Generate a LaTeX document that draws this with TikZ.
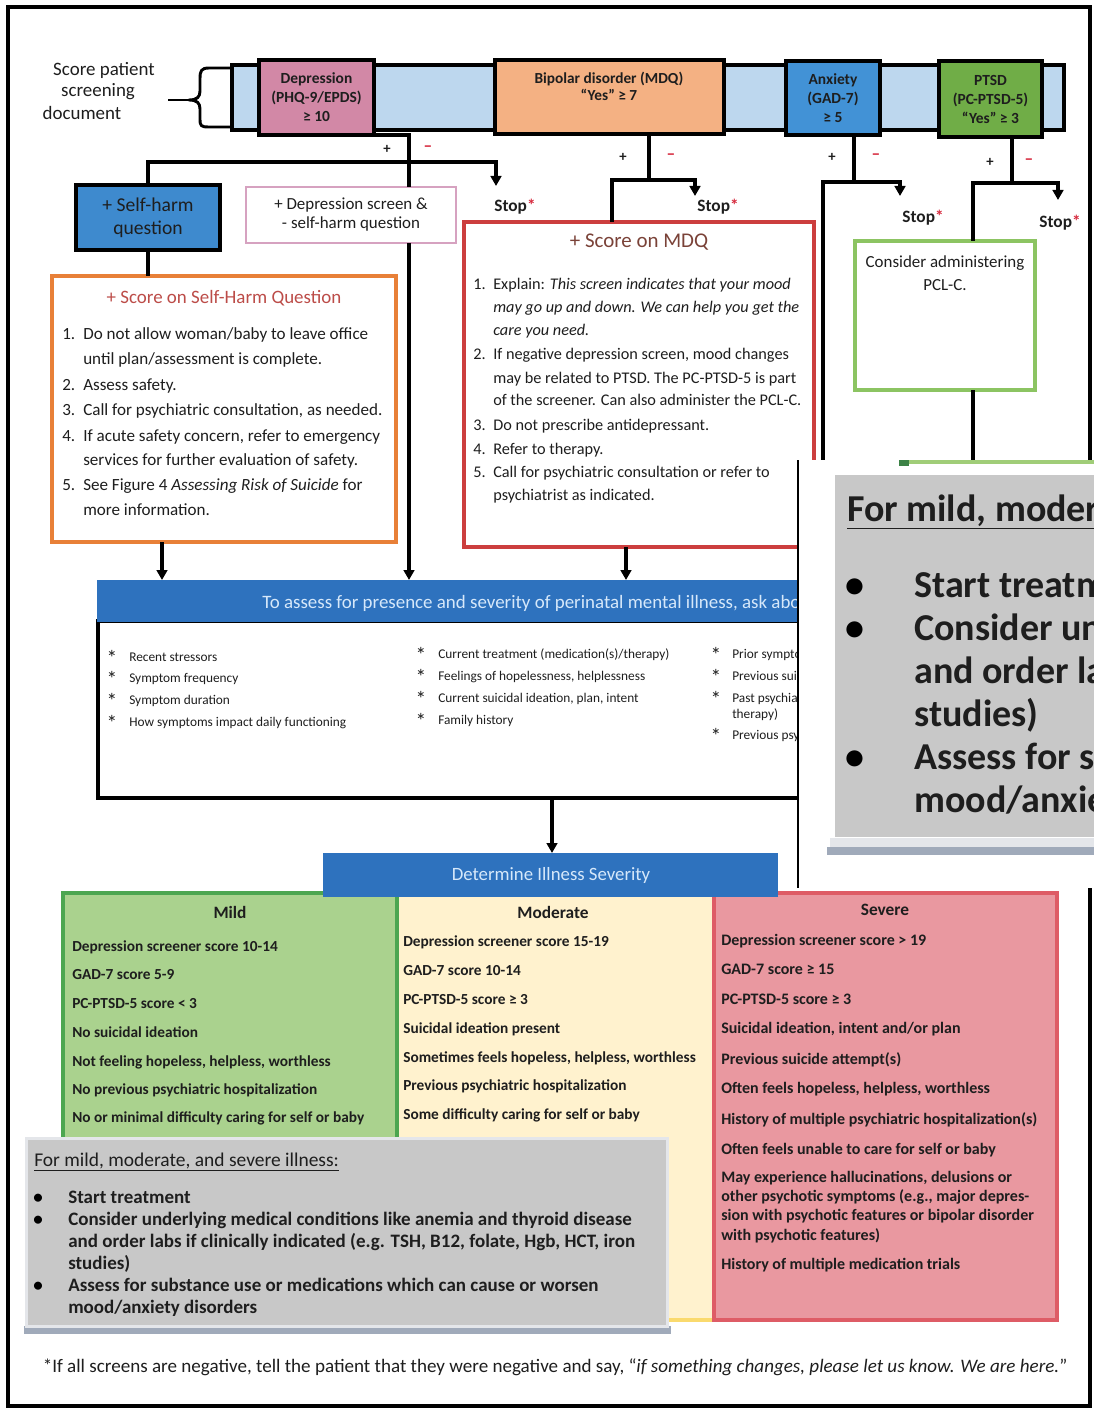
\documentclass[tikz,border=0pt]{standalone}
\usepackage{fontspec}
\setmainfont{Carlito}
\usetikzlibrary{arrows.meta}

\definecolor{barblue}{RGB}{189,215,238}
\definecolor{depfill}{RGB}{210,136,166}
\definecolor{bipfill}{RGB}{244,177,131}
\definecolor{anxfill}{RGB}{66,146,214}
\definecolor{ptsdfill}{RGB}{112,173,71}
\definecolor{shfill}{RGB}{62,138,206}
\definecolor{pinkline}{RGB}{214,162,192}
\definecolor{orangeline}{RGB}{232,128,56}
\definecolor{mdqred}{RGB}{204,62,62}
\definecolor{titlered}{RGB}{188,76,72}
\definecolor{mdqtitle}{RGB}{122,66,56}
\definecolor{stopred}{RGB}{214,40,60}
\definecolor{pclgreen}{RGB}{140,196,98}
\definecolor{headblue}{RGB}{46,114,190}
\definecolor{headtext}{RGB}{214,232,250}
\definecolor{mildfill}{RGB}{170,210,142}
\definecolor{mildline}{RGB}{76,166,80}
\definecolor{modfill}{RGB}{255,242,206}
\definecolor{modline}{RGB}{250,218,110}
\definecolor{sevfill}{RGB}{233,152,160}
\definecolor{sevline}{RGB}{222,92,102}
\definecolor{notegray}{RGB}{200,200,200}
\definecolor{noteshadow}{RGB}{160,170,186}
\definecolor{noteedge}{RGB}{228,230,234}
\definecolor{inkdark}{RGB}{30,30,30}
\definecolor{pcllight}{RGB}{160,205,120}
\definecolor{pcldark}{RGB}{60,130,70}

\newcommand\fsz[2]{\fontsize{#1}{#2}\selectfont}

\begin{document}
\begin{tikzpicture}[x=0.75pt,y=-0.75pt,
  rect/.style args={#1/#2/#3/#4}{at={({(#1+#3)/2},{(#2+#4)/2})},
     minimum width={(#3-#1)*0.75pt}, minimum height={(#4-#2)*0.75pt},
     inner sep=0pt, outer sep=0pt},
  conn/.style={draw=black, line width=2.5pt},
  arr/.style={conn, -{Triangle[width=8pt,length=7.5pt]}},
  screen/.style={draw=black, line width=2.4pt, font=\bfseries\fsz{11.6}{14.25},
     align=center, text=inkdark},
  stoplbl/.style={font=\bfseries\fsz{13}{15}, text=inkdark, inner sep=0pt},
  pluslbl/.style={font=\bfseries\fsz{11}{13}, text=inkdark, inner sep=0pt},
  minuslbl/.style={font=\bfseries\fsz{13}{15}, text=stopred, inner sep=0pt},
  oitem/.style={anchor=base west, inner sep=0pt, font=\fsz{12.8}{15}, text=inkdark},
  mitem/.style={anchor=base west, inner sep=0pt, font=\fsz{12.2}{14}, text=inkdark},
  aitem/.style={anchor=base west, inner sep=0pt, font=\fsz{10}{12}, text=inkdark},
  astmark/.style={anchor=base, inner sep=0pt, font=\fsz{16}{16}, text=inkdark},
  titem/.style={anchor=base west, inner sep=0pt, font=\bfseries\fsz{11.5}{13}, text=inkdark},
  sitem/.style={anchor=base west, inner sep=0pt, font=\bfseries\fsz{12}{13}, text=inkdark},
  ttitle/.style={inner sep=0pt, font=\bfseries\fsz{13}{15}, text=inkdark},
  gitem/.style={anchor=base west, inner sep=0pt, font=\bfseries\fsz{14.25}{16}, text=inkdark},
  gdot/.style={anchor=base, inner sep=0pt, font=\bfseries\fsz{14.25}{16}, text=black},
  zitem/.style={anchor=base west, inner sep=0pt, font=\bfseries\fsz{28.5}{32}, text=inkdark},
  zdot/.style={anchor=base, inner sep=0pt, font=\bfseries\fsz{28.5}{32}, text=black},
]
\useasboundingbox (0,0) rectangle (1094,1408);
\fill[white] (0,0) rectangle (1094,1408);

% outer frame
\draw[line width=2.4pt] (8,7) rectangle (1090,1406);

% ---------- screening row ----------
\node[font=\fsz{14.2}{16}, text=inkdark] (sp1) at (104,70) {Score patient};
\node[font=\fsz{14.2}{16}, text=inkdark] (sp2) at (98,92) {screening};
\node[font=\fsz{14.2}{16}, text=inkdark] (sp3) at (82,113) {document};

\draw[line width=2.2pt, line join=round]
  (232,68) -- (209,68) .. controls (201,68) and (200,71) .. (200,79) -- (200,91)
  .. controls (200,97) and (197,100) .. (189,100)
  .. controls (197,100) and (200,103) .. (200,109) -- (200,119)
  .. controls (200,126) and (201,127) .. (209,127) -- (232,127);
\draw[line width=2.2pt] (189,100) -- (168,100);

\node[rect=232/65/1064/130, fill=barblue, draw=black, line width=2.4pt] (bar) {};

\node[screen, rect=259/60/374/135, fill=depfill] (dep) {Depression\\(PHQ-9/EPDS)\\≥ 10};
\node[screen, rect=495/60/724/134, fill=bipfill] (bip) {};
\node[font=\bfseries\fsz{11.5}{12.75}, align=center, text=inkdark] (biptxt) at (609,86)
  {Bipolar disorder (MDQ)\\“Yes” ≥ 7};
\node[screen, rect=786/61/880/135, fill=anxfill] (anx) {Anxiety\\(GAD-7)\\≥ 5};
\node[screen, rect=939/61/1042/137, fill=ptsdfill] (ptsd) {PTSD\\(PC-PTSD-5)\\“Yes” ≥ 3};

% branch points and stop arrows
\coordinate (dj) at (409,162);
\coordinate (dstop) at (496,186);
\coordinate (bj) at (649,180);
\coordinate (bl) at (612,180);
\coordinate (bstop) at (695,196);
\coordinate (aj) at (854,182);
\coordinate (al) at (823,182);
\coordinate (astop) at (900,196);
\coordinate (pj) at (1012,183);
\coordinate (pl) at (973,183);
\coordinate (pstop) at (1058,200);
\coordinate (ox) at (162,0);
\coordinate (mx) at (626,0);
\coordinate (sx) at (552,0);

% ---------- second row boxes ----------
\node[rect=76/185/220/250, fill=shfill, draw=black, line width=2.4pt,
  font=\fsz{14.7}{17.25}, align=center, text=inkdark] (sh) {+ Self-harm\\question};
\node[rect=246/187/456/243, draw=pinkline, line width=2.2pt, fill=white,
  font=\fsz{12.7}{14.25}, align=center, text=inkdark] (pink)
  {+ Depression screen \&\\- self-harm question};

\node[rect=52/276/396/542, draw=orangeline, line width=3pt] (orng) {};
\node[rect=464/222/814/547, draw=mdqred, line width=2.4pt] (mdq) {};
\node[rect=855/241/1035/390, draw=pclgreen, line width=2.4pt] (pcl) {};
\node[font=\fsz{12.7}{17.25}, align=center, text=inkdark] (pcltxt) at (945,273)
  {Consider administering\\PCL-C.};

% ---------- assessment box ----------
\node[rect=98/621/1040/798, draw=black, line width=3pt] (assess) {};
\node[rect=97/580/1040/622, fill=headblue] (ahead) {};
\node[anchor=base west, inner sep=0pt, font=\fsz{14.2}{16}, text=headtext] (aheadtxt)
  at (262,608) {To assess for presence and severity of perinatal mental illness, ask about:};

% ---------- connectors ----------
\draw[conn] (dep.south east) -| (pink.north -| dj);
\draw[arr] (sh.north) |- (dj) -| (dstop);
\draw[arr] (pink.south -| dj) -- (ahead.north -| dj);
\draw[conn] (sh.south) -- (sh.south |- orng.north);
\draw[arr] (orng.south -| ox) -- (ahead.north -| ox);

\draw[conn] (bip.south -| bj) -- (bj);
\draw[arr] (mdq.north -| bl) |- (bj) -| (bstop);
\draw[arr] (mdq.south -| mx) -- (ahead.north -| mx);

\draw[conn] (anx.south -| aj) -- (aj);
\draw[arr] (ahead.north -| al) |- (aj) -| (astop);

\draw[conn] (ptsd.south -| pj) -- (pj);
\draw[arr] (pcl.north -| pl) |- (pj) -| (pstop);
\draw[arr] (pcl.south -| pl) -- (ahead.north -| pl);

\node[pluslbl] (p1) at (387,149) {+};
\node[minuslbl] (m1) at (428,149) {–};
\node[pluslbl] (p2) at (623,157) {+};
\node[minuslbl] (m2) at (671,157) {–};
\node[pluslbl] (p3) at (832,157) {+};
\node[minuslbl] (m3) at (876,157) {–};
\node[pluslbl] (p4) at (990,162) {+};
\node[minuslbl] (m4) at (1029,162) {–};

\node[stoplbl] (stop1) at (515,207) {Stop\textcolor{stopred}{*}};
\node[stoplbl] (stop2) at (718,207) {Stop\textcolor{stopred}{*}};
\node[stoplbl] (stop3) at (923,218) {Stop\textcolor{stopred}{*}};
\node[stoplbl] (stop4) at (1060,223) {Stop\textcolor{stopred}{*}};

% ---------- self-harm action list ----------
\node[font=\fsz{14.2}{16}, text=titlered] (otitle) at (224,298) {+ Score on Self-Harm Question};
\node[oitem] (on1) at (62,340) {1.};
\node[oitem] (ot1a) at (83,340) {Do not allow woman/baby to leave office};
\node[oitem] (ot1b) at (83,365) {until plan/assessment is complete.};
\node[oitem] (on2) at (62,390) {2.};
\node[oitem] (ot2) at (83,390) {Assess safety.};
\node[oitem] (on3) at (62,415) {3.};
\node[oitem] (ot3) at (83,415) {Call for psychiatric consultation, as needed.};
\node[oitem] (on4) at (62,441) {4.};
\node[oitem] (ot4a) at (83,441) {If acute safety concern, refer to emergency};
\node[oitem] (ot4b) at (83,465) {services for further evaluation of safety.};
\node[oitem] (on5) at (62,490) {5.};
\node[oitem] (ot5a) at (83,490) {See Figure 4 \textit{Assessing Risk of Suicide} for};
\node[oitem] (ot5b) at (83,515) {more information.};

% ---------- MDQ action list ----------
\node[font=\fsz{15.7}{17}, text=mdqtitle] (mtitle) at (639,242) {+ Score on MDQ};
\node[mitem] (mn1) at (473,290) {1.};
\node[mitem] (mt1a) at (493,290) {Explain: \textit{This screen indicates that your mood}};
\node[mitem] (mt1b) at (493,313) {\textit{may go up and down. We can help you get the}};
\node[mitem] (mt1c) at (493,336) {\textit{care you need.}};
\node[mitem] (mn2) at (473,360) {2.};
\node[mitem] (mt2a) at (493,360) {If negative depression screen, mood changes};
\node[mitem] (mt2b) at (493,383) {may be related to PTSD. The PC-PTSD-5 is part};
\node[mitem] (mt2c) at (493,406) {of the screener. Can also administer the PCL-C.};
\node[mitem] (mn3) at (473,430) {3.};
\node[mitem] (mt3) at (493,430) {Do not prescribe antidepressant.};
\node[mitem] (mn4) at (473,454) {4.};
\node[mitem] (mt4) at (493,454) {Refer to therapy.};
\node[mitem] (mn5) at (473,477) {5.};
\node[mitem] (mt5a) at (493,477) {Call for psychiatric consultation or refer to};
\node[mitem] (mt5b) at (493,500) {psychiatrist as indicated.};

% ---------- assessment questions ----------
\node[astmark] (s11) at (112,665) {*};
\node[aitem] (a11) at (129,661) {Recent stressors};
\node[astmark] (s12) at (112,686) {*};
\node[aitem] (a12) at (129,682) {Symptom frequency};
\node[astmark] (s13) at (112,708) {*};
\node[aitem] (a13) at (129,704) {Symptom duration};
\node[astmark] (s14) at (112,730) {*};
\node[aitem] (a14) at (129,726) {How symptoms impact daily functioning};

\node[astmark] (s21) at (421,662) {*};
\node[aitem] (a21) at (438,658) {Current treatment (medication(s)/therapy)};
\node[astmark] (s22) at (421,684) {*};
\node[aitem] (a22) at (438,680) {Feelings of hopelessness, helplessness};
\node[astmark] (s23) at (421,706) {*};
\node[aitem] (a23) at (438,702) {Current suicidal ideation, plan, intent};
\node[astmark] (s24) at (421,728) {*};
\node[aitem] (a24) at (438,724) {Family history};

\node[astmark] (s31) at (716,662) {*};
\node[aitem] (a31) at (732,658) {Prior symptoms};
\node[astmark] (s32) at (716,684) {*};
\node[aitem] (a32) at (732,680) {Previous suicide attempts};
\node[astmark] (s33) at (716,706) {*};
\node[aitem] (a33) at (732,702) {Past psychiatric treatment (medication/};
\node[aitem] (a33b) at (732,718) {therapy)};
\node[astmark] (s34) at (716,743) {*};
\node[aitem] (a34) at (732,739) {Previous psychiatric hospitalization};

% ---------- severity table ----------
\node[rect=397/895/714/1320, fill=modfill, draw=modline, line width=2.4pt] (moder) {};
\node[rect=63/893/397/1146, fill=mildfill, draw=mildline, line width=2.4pt] (mild) {};
\node[rect=714/893/1057/1320, fill=sevfill, draw=sevline, line width=2.4pt] (sever) {};
\node[rect=323/853/778/897, fill=headblue] (shead) {};
\node[font=\fsz{14.1}{16}, text=headtext] (sheadtxt) at (551,875) {Determine Illness Severity};
\draw[arr] (assess.south -| sx) -- (shead.north -| sx);

\node[ttitle] (tmild) at (230,912) {Mild};
\node[titem] (m1) at (72,951) {Depression screener score 10-14};
\node[titem] (m2) at (72,979) {GAD-7 score 5-9};
\node[titem] (m3) at (72,1008) {PC-PTSD-5 score < 3};
\node[titem] (m4) at (72,1037) {No suicidal ideation};
\node[titem] (m5) at (72,1066) {Not feeling hopeless, helpless, worthless};
\node[titem] (m6) at (72,1094) {No previous psychiatric hospitalization};
\node[titem] (m7) at (72,1122) {No or minimal difficulty caring for self or baby};

\node[ttitle] (tmod) at (553,912) {Moderate};
\node[titem] (d1) at (403,946) {Depression screener score 15-19};
\node[titem] (d2) at (403,975) {GAD-7 score 10-14};
\node[titem] (d3) at (403,1004) {PC-PTSD-5 score ≥ 3};
\node[titem] (d4) at (403,1033) {Suicidal ideation present};
\node[titem] (d5) at (403,1062) {Sometimes feels hopeless, helpless, worthless};
\node[titem] (d6) at (403,1090) {Previous psychiatric hospitalization};
\node[titem] (d7) at (403,1119) {Some difficulty caring for self or baby};

\node[ttitle] (tsev) at (885,910) {Severe};
\node[sitem] (v1) at (721,945) {Depression screener score > 19};
\node[sitem] (v2) at (721,974) {GAD-7 score ≥ 15};
\node[sitem] (v3) at (721,1004) {PC-PTSD-5 score ≥ 3};
\node[sitem] (v4) at (721,1033) {Suicidal ideation, intent and/or plan};
\node[sitem] (v5) at (721,1064) {Previous suicide attempt(s)};
\node[sitem] (v6) at (721,1093) {Often feels hopeless, helpless, worthless};
\node[sitem] (v7) at (721,1124) {History of multiple psychiatric hospitalization(s)};
\node[sitem] (v8) at (721,1154) {Often feels unable to care for self or baby};
\node[sitem] (v9a) at (721,1182) {May experience hallucinations, delusions or};
\node[sitem] (v9b) at (721,1201) {other psychotic symptoms (e.g., major depres-};
\node[sitem] (v9c) at (721,1220) {sion with psychotic features or bipolar disorder};
\node[sitem] (v9d) at (721,1240) {with psychotic features)};
\node[sitem] (v10) at (721,1269) {History of multiple medication trials};

% ---------- general steps note ----------
\fill[noteshadow] (24,1326) rectangle (671,1334);
\fill[noteedge] (25,1137) rectangle (669,1328);
\node[rect=28/1140/666/1325, fill=notegray] (note) {};
\node[anchor=base west, inner sep=0pt, font=\fsz{14.6}{16}, text=inkdark] (ntitle)
  at (34,1166) {\underline{For mild, moderate, and severe illness:}};
\node[gdot] (nb1) at (38,1203) {•};
\node[gitem] (n1) at (68,1203) {Start treatment};
\node[gdot] (nb2) at (38,1225) {•};
\node[gitem] (n2a) at (68,1225) {Consider underlying medical conditions like anemia and thyroid disease};
\node[gitem] (n2b) at (68,1247) {and order labs if clinically indicated (e.g. TSH, B12, folate, Hgb, HCT, iron};
\node[gitem] (n2c) at (68,1269) {studies)};
\node[gdot] (nb3) at (38,1291) {•};
\node[gitem] (n3a) at (68,1291) {Assess for substance use or medications which can cause or worsen};
\node[gitem] (n3b) at (68,1313) {mood/anxiety disorders};

% ---------- footnote ----------
\node[font=\fsz{14.3}{16}, text=inkdark] (foot) at (555,1367)
  {*If all screens are negative, tell the patient that they were negative and say,
   “\textit{if something changes, please let us know. We are here.}”};

% ---------- enlarged detail of the note ----------
\begin{scope}
  \clip (798,460) rectangle (1094,888);
  \fill[white] (798,460) rectangle (1094,888);
  \draw[line width=2.4pt, pcllight] (900,462) -- (1094,462);
  \fill[pcldark] (899,459) rectangle (909,466);
  \fill[noteshadow] (827,847) rectangle (1100,855);
  \fill[noteedge] (830,838) rectangle (1100,847);
  \node[rect=835/475/1100/837, fill=notegray] (znote) {};
  \node[anchor=base west, inner sep=0pt, font=\bfseries\fsz{28.5}{32}, text=inkdark] (ztitle)
    at (847,521) {\underline{For mild, moderate, and severe illness:}};
  \node[zdot] (zb1) at (855,597) {•};
  \node[zitem] (z1) at (914,597) {Start treatment};
  \node[zdot] (zb2) at (855,640) {•};
  \node[zitem] (z2a) at (914,640) {Consider underlying medical conditions};
  \node[zitem] (z2b) at (914,683) {and order labs if clinically indicated};
  \node[zitem] (z2c) at (914,726) {studies)};
  \node[zdot] (zb3) at (855,769) {•};
  \node[zitem] (z3a) at (914,769) {Assess for substance use};
  \node[zitem] (z3b) at (914,812) {mood/anxiety disorders};
\end{scope}
\draw[line width=1.6pt] (798,460) -- (798,888);

\end{tikzpicture}
\end{document}
